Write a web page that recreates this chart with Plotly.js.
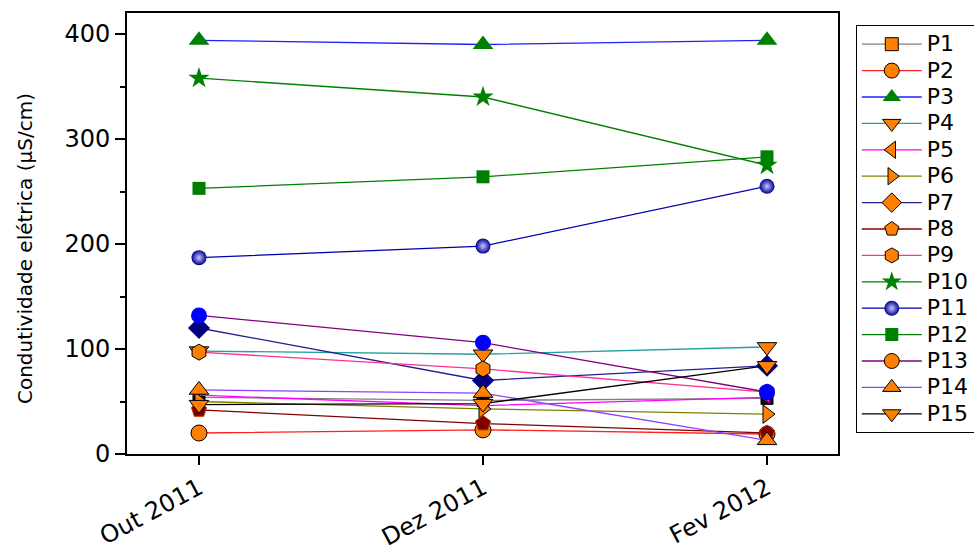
<!DOCTYPE html>
<html>
<head>
<meta charset="utf-8">
<script src="https://cdn.plot.ly/plotly-3.0.1.min.js"></script>
<style>html,body{margin:0;padding:0;background:#fff;}#chart{width:974px;height:550px;}</style>
</head>
<body>
<div id="chart"></div>
<script>
// ---- data ----
const categories = ['Out 2011', 'Dez 2011', 'Fev 2012'];
const seriesNames = ['P1','P2','P3','P4','P5','P6','P7','P8','P9','P10','P11','P12','P13','P14','P15'];
const P1  = [54, 51, 53];
const P2  = [20, 23, 19];
const P3  = [394, 390, 394];
const P4  = [98, 95, 102];
const P5  = [56, 46, 54];
const P6  = [50, 43, 38];
const P7  = [120, 70, 84];
const P8  = [42, 29, 20];
const P9  = [97, 81, 59];
const P10 = [358, 340, 275];
const P11 = [187, 198, 255];
const P12 = [253, 264, 283];
const P13 = [132, 106, 59];
const P14 = [61, 58, 13];
const P15 = [47, 48, 84];
const seriesValues = [P1,P2,P3,P4,P5,P6,P7,P8,P9,P10,P11,P12,P13,P14,P15];
const yTicks = [0, 100, 200, 300, 400];
const yTitle = 'Condutividade elétrica (μS/cm)';

// ---- styles ----
const ORANGE = '#FF8000';
const lineColors = ['#808080','#FF2020','#2020FF','#20A0A0','#FF00FF','#808000','#202090','#800000','#FF3090','#008000','#0000B0','#008000','#800080','#9040FF','#000000'];
const symbols = ['square','circle','triangle-up','triangle-down','triangle-left','triangle-right','diamond','pentagon','hexagon','star','circle','square','circle','triangle-up','triangle-down'];
const legendMarker = [
  {color:ORANGE, line:{color:'#000',width:1}, size:13},
  {color:ORANGE, line:{color:'#000',width:1}, size:15},
  {color:'#008000', line:{width:0}, size:16},
  {color:ORANGE, line:{color:'#000',width:1}, size:16},
  {color:ORANGE, line:{color:'#000',width:1}, size:15},
  {color:ORANGE, line:{color:'#000',width:1}, size:15},
  {color:ORANGE, line:{color:'#000',width:1}, size:15},
  {color:ORANGE, line:{color:'#000',width:1}, size:15},
  {color:ORANGE, line:{color:'#000',width:1}, size:15},
  {color:'#008000', line:{width:0}, size:15},
  {color:'#000090', line:{width:0}, size:15, gradient:{type:'radial', color:'#c8c8ff'}},
  {color:'#008000', line:{width:0}, size:13},
  {color:ORANGE, line:{color:'#000',width:1}, size:15},
  {color:ORANGE, line:{color:'#000',width:1}, size:16},
  {color:ORANGE, line:{color:'#000',width:1}, size:16}
];
const plotMarker = [
  {color:'#000000', line:{color:'#000',width:1}, size:12},
  {color:ORANGE, line:{color:'#000',width:1}, size:16},
  {color:'#008000', line:{width:0}, size:18},
  {color:ORANGE, line:{color:'#000',width:1}, size:17},
  {color:'#FF00FF', line:{color:'#800080',width:1}, size:11},
  {color:ORANGE, line:{color:'#000',width:1}, size:16},
  {color:'#000080', line:{width:0}, size:17},
  {color:'#800000', line:{color:'#C04000',width:1}, size:16},
  {color:ORANGE, line:{color:'#000',width:1}, size:16},
  {color:'#008000', line:{width:0}, size:16},
  {color:'#000090', line:{width:0}, size:15, gradient:{type:'radial', color:'#c8c8ff'}},
  {color:'#008000', line:{width:0}, size:13},
  {color:'#0000FF', line:{width:0}, size:16},
  {color:ORANGE, line:{color:'#000',width:1}, size:17},
  {color:ORANGE, line:{color:'#000',width:1}, size:17}
];

const traces = [];
seriesNames.forEach((n, i) => {
  traces.push({
    type:'scatter', mode:'lines+markers',
    name:'<span style="font-size:22px">' + n + '</span>',
    x:[null], y:[null],
    line:{color:lineColors[i], width:1.3},
    marker:Object.assign({symbol:symbols[i]}, legendMarker[i]),
    showlegend:true, hoverinfo:'skip'
  });
});
seriesNames.forEach((n, i) => {
  traces.push({
    type:'scatter', mode:'lines+markers', name:n,
    x:categories, y:seriesValues[i],
    line:{color:lineColors[i], width:1.3},
    marker:Object.assign({symbol:symbols[i]}, plotMarker[i]),
    showlegend:false, cliponaxis:false
  });
});

const FONT = 'DejaVu Sans, Arial, sans-serif';
const xr = [-0.2535, 2.25];
const yr = [0, 420];
const layout = {
  width:974, height:550,
  margin:{l:127, r:136, t:13, b:96, pad:0, autoexpand:false},
  paper_bgcolor:'#fff', plot_bgcolor:'#fff',
  font:{family:FONT, color:'#000'},
  showlegend:true,
  legend:{
    x:1.025, y:0.9728, xanchor:'left', yanchor:'top',
    bordercolor:'#000', borderwidth:1, bgcolor:'#fff',
    font:{family:FONT, size:18, color:'#000'},
    itemwidth:60, tracegroupgap:0
  },
  xaxis:{
    type:'category', range:xr, automargin:false,
    showline:true, linecolor:'#000', linewidth:2, mirror:true,
    ticks:'outside', ticklen:9, tickwidth:2, tickcolor:'#000',
    tickangle:-28, tickfont:{family:FONT, size:24, color:'#000'},
    showgrid:false, zeroline:false
  },
  yaxis:{
    range:yr, automargin:false,
    tickvals:yTicks,
    showline:true, linecolor:'#000', linewidth:2, mirror:true,
    ticks:'outside', ticklen:10, tickwidth:2, tickcolor:'#000',
    minor:{dtick:50, tick0:0, ticks:'outside', ticklen:5, tickwidth:2, tickcolor:'#000', showgrid:false},
    tickfont:{family:FONT, size:24, color:'#000'},
    showgrid:false, zeroline:false
  },
  xaxis2:{
    type:'linear', overlaying:'x', side:'top', anchor:'y', range:xr,
    tickvals:[0,1,2], ticks:'inside', ticklen:9, tickwidth:2, tickcolor:'#000',
    showticklabels:false, showline:false, showgrid:false, zeroline:false
  },
  yaxis2:{
    type:'linear', overlaying:'y', side:'right', anchor:'x', range:yr,
    tickvals:yTicks, ticks:'inside', ticklen:10, tickwidth:2, tickcolor:'#000',
    minor:{dtick:50, tick0:0, ticks:'inside', ticklen:5, tickwidth:2, tickcolor:'#000', showgrid:false},
    showticklabels:false, showline:false, showgrid:false, zeroline:false
  },
  annotations:[{
    text:yTitle, xref:'paper', yref:'paper', x:-0.1435, y:0.467,
    xanchor:'center', yanchor:'middle', textangle:-90, showarrow:false,
    font:{family:FONT, size:20, color:'#000'}
  }]
};

Plotly.newPlot('chart', traces, layout, {staticPlot:true, displayModeBar:false});
</script>
</body>
</html>
